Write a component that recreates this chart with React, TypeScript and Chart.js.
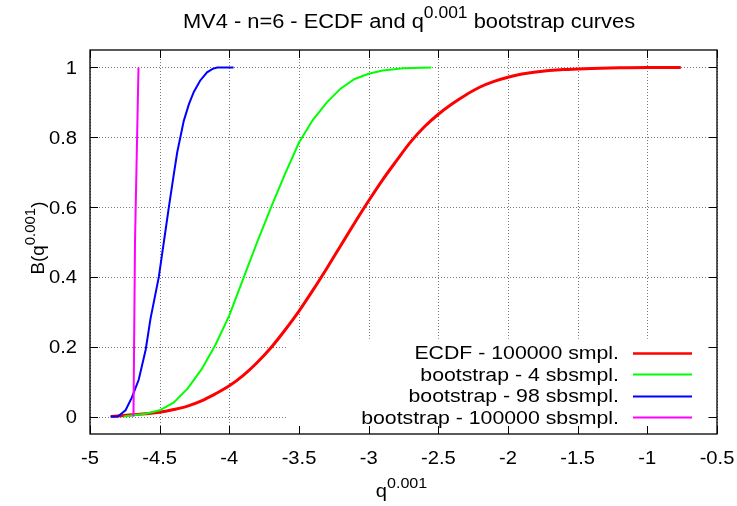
import React, { useEffect, useRef } from "react";
import { Chart, registerables } from "chart.js";

Chart.register(...registerables);

// ---------- data ----------
const X_TICKS = [-5, -4.5, -4, -3.5, -3, -2.5, -2, -1.5, -1, -0.5];
const X_TICK_LABELS = ["-5", "-4.5", "-4", "-3.5", "-3", "-2.5", "-2", "-1.5", "-1", "-0.5"];
const Y_TICKS = [0, 0.2, 0.4, 0.6, 0.8, 1];
const Y_TICK_LABELS = ["0", "0.2", "0.4", "0.6", "0.8", "1"];

const SERIES_NAMES = [
  "ECDF - 100000 smpl.",
  "bootstrap - 4 sbsmpl.",
  "bootstrap - 98 sbsmpl.",
  "bootstrap - 100000 sbsmpl.",
];
const SERIES_COLORS = ["#ff0000", "#00ff00", "#0000ff", "#ff00ff"];

const ecdfQ = [-4.85, -4.7, -4.6, -4.5, -4.4, -4.3, -4.2, -4.1, -4.0, -3.9, -3.8, -3.7, -3.6, -3.5, -3.4, -3.3, -3.2, -3.1, -3.0, -2.9, -2.8, -2.7, -2.6, -2.5, -2.4, -2.3, -2.2, -2.1, -2.0, -1.9, -1.8, -1.6, -1.4, -1.2, -1.0, -0.76];
const ecdfB = [0, 0.005, 0.008, 0.012, 0.02, 0.03, 0.045, 0.065, 0.088, 0.118, 0.155, 0.198, 0.248, 0.302, 0.362, 0.425, 0.49, 0.555, 0.618, 0.678, 0.733, 0.786, 0.83, 0.866, 0.896, 0.922, 0.944, 0.96, 0.972, 0.981, 0.987, 0.994, 0.997, 0.999, 1, 1];

const boot4Q = [-4.76, -4.7, -4.6, -4.5, -4.4, -4.3, -4.2, -4.1, -4.0, -3.9, -3.8, -3.7, -3.6, -3.5, -3.4, -3.3, -3.2, -3.1, -3.0, -2.9, -2.75, -2.55];
const boot4B = [0, 0.003, 0.008, 0.018, 0.04, 0.08, 0.135, 0.205, 0.29, 0.395, 0.5, 0.6, 0.695, 0.785, 0.85, 0.9, 0.94, 0.967, 0.982, 0.991, 0.998, 1];

const boot98Q = [-4.853, -4.8, -4.745, -4.7, -4.65, -4.6, -4.566, -4.506, -4.47, -4.434, -4.4, -4.374, -4.327, -4.29, -4.255, -4.21, -4.16, -4.12, -4.087, -3.97];
const boot98B = [0, 0, 0.018, 0.054, 0.106, 0.192, 0.28, 0.4, 0.5, 0.6, 0.69, 0.757, 0.847, 0.895, 0.93, 0.962, 0.986, 0.996, 1, 1];

const boot100kQ = [-4.688, -4.677, -4.652];
const boot100kB = [0, 0.5, 1];

// ---------- styling ----------
const FONT = '"Liberation Sans", Arial, Helvetica, sans-serif';
const SX = 1.12; // horizontal text stretch
const SUP = 0.8;

type Part = { t: string; sup?: boolean };

function richWidth(ctx: CanvasRenderingContext2D, parts: Part[], size: number) {
  let w = 0;
  for (const p of parts) {
    ctx.font = `${p.sup ? size * SUP : size}px ${FONT}`;
    w += ctx.measureText(p.t).width;
  }
  return w;
}

function drawRich(
  ctx: CanvasRenderingContext2D,
  parts: Part[],
  x: number,
  y: number,
  align: "left" | "center" | "right",
  size: number,
  sx: number
) {
  const w = richWidth(ctx, parts, size) * sx;
  const start = align === "center" ? x - w / 2 : align === "right" ? x - w : x;
  ctx.save();
  ctx.translate(start, y);
  ctx.scale(sx, 1);
  ctx.textAlign = "left";
  ctx.textBaseline = "alphabetic";
  ctx.fillStyle = "#000";
  let off = 0;
  for (const p of parts) {
    const s = p.sup ? size * SUP : size;
    ctx.font = `${s}px ${FONT}`;
    ctx.fillText(p.t, off, p.sup ? -size * 0.52 : 0);
    off += ctx.measureText(p.t).width;
  }
  ctx.restore();
}

const TICK_SIZE = 18;
const LEGEND_SIZE = 19;

function legendBox(area: any) {
  const textRight = area.right - 98;
  const firstRow = area.bottom - 81.3;
  return {
    textRight,
    firstRow,
    rowGap: 21.5,
    left: area.left + 197,
    top: firstRow - 14,
    right: area.right - 11,
    bottom: area.bottom - 6,
    sampleL: area.right - 84,
    sampleR: area.right - 25,
  };
}

const gnuplotFrame = {
  id: "gnuplotFrame",
  beforeDatasetsDraw(chart: any) {
    const { ctx, chartArea: a, scales } = chart;
    const xs = scales.x;
    const ys = scales.y;
    ctx.save();
    ctx.strokeStyle = "#777";
    ctx.lineWidth = 1;
    ctx.setLineDash([1, 2]);
    for (const v of X_TICKS) {
      const px = Math.round(xs.getPixelForValue(v)) + 0.5;
      ctx.beginPath();
      ctx.moveTo(px, a.top);
      ctx.lineTo(px, a.bottom);
      ctx.stroke();
    }
    for (const v of Y_TICKS) {
      const py = Math.round(ys.getPixelForValue(v)) + 0.5;
      ctx.beginPath();
      ctx.moveTo(a.left, py);
      ctx.lineTo(a.right, py);
      ctx.stroke();
    }
    ctx.setLineDash([]);
    // legend background (opaque key box)
    const lb = legendBox(a);
    ctx.fillStyle = "#fff";
    ctx.fillRect(lb.left, lb.top, lb.right - lb.left, lb.bottom - lb.top);
    ctx.restore();
  },
  afterDatasetsDraw(chart: any) {
    const { ctx, chartArea: a, scales } = chart;
    const xs = scales.x;
    const ys = scales.y;
    ctx.save();
    // border
    ctx.strokeStyle = "#000";
    ctx.lineWidth = 1.3;
    ctx.strokeRect(a.left, a.top, a.right - a.left, a.bottom - a.top);
    // tick marks (inward, mirrored)
    ctx.lineWidth = 1;
    const tl = 8;
    for (const v of X_TICKS) {
      const px = Math.round(xs.getPixelForValue(v)) + 0.5;
      ctx.beginPath();
      ctx.moveTo(px, a.bottom);
      ctx.lineTo(px, a.bottom - tl);
      ctx.moveTo(px, a.top);
      ctx.lineTo(px, a.top + tl);
      ctx.stroke();
    }
    for (const v of Y_TICKS) {
      const py = Math.round(ys.getPixelForValue(v)) + 0.5;
      ctx.beginPath();
      ctx.moveTo(a.left, py);
      ctx.lineTo(a.left + tl, py);
      ctx.moveTo(a.right, py);
      ctx.lineTo(a.right - tl, py);
      ctx.stroke();
    }
    // tick labels
    X_TICKS.forEach((v, i) => {
      drawRich(ctx, [{ t: X_TICK_LABELS[i] }], xs.getPixelForValue(v), a.bottom + 29.5, "center", TICK_SIZE, SX);
    });
    Y_TICKS.forEach((v, i) => {
      drawRich(ctx, [{ t: Y_TICK_LABELS[i] }], a.left - 13, ys.getPixelForValue(v) + 6.5, "right", TICK_SIZE, SX);
    });
    // title
    drawRich(
      ctx,
      [{ t: "MV4 - n=6 - ECDF and q" }, { t: "0.001", sup: true }, { t: " bootstrap curves" }],
      409,
      28,
      "center",
      19.5,
      SX
    );
    // x axis title
    drawRich(ctx, [{ t: "q" }, { t: "0.001", sup: true }], (a.left + a.right) / 2 - 2, a.bottom + 63, "center", TICK_SIZE, SX);
    // y axis title (rotated)
    ctx.save();
    ctx.translate(44, (a.top + a.bottom) / 2 - 4);
    ctx.rotate(-Math.PI / 2);
    drawRich(ctx, [{ t: "B(q" }, { t: "0.001", sup: true }, { t: ")" }], 0, 0, "center", TICK_SIZE, 1.04);
    ctx.restore();
    // legend text and samples
    const lb = legendBox(a);
    SERIES_NAMES.forEach((n, i) => {
      const cy = lb.firstRow + i * lb.rowGap;
      drawRich(ctx, [{ t: n }], lb.textRight, cy + 6.5, "right", LEGEND_SIZE, SX);
      ctx.strokeStyle = SERIES_COLORS[i];
      ctx.lineWidth = i === 0 ? 2.5 : 2;
      ctx.beginPath();
      ctx.moveTo(lb.sampleL, Math.round(cy) + 0.5);
      ctx.lineTo(lb.sampleR, Math.round(cy) + 0.5);
      ctx.stroke();
    });
    ctx.restore();
  },
};

function pts(q: number[], b: number[]) {
  return q.map((v, i) => ({ x: v, y: b[i] }));
}

export default function App() {
  const ref = useRef<HTMLCanvasElement | null>(null);
  useEffect(() => {
    if (!ref.current) return;
    const chart = new Chart(ref.current, {
      type: "line",
      data: {
        datasets: [
          { label: SERIES_NAMES[0], data: pts(ecdfQ, ecdfB), borderColor: SERIES_COLORS[0], borderWidth: 3, pointRadius: 0, cubicInterpolationMode: "monotone", order: 4 },
          { label: SERIES_NAMES[1], data: pts(boot4Q, boot4B), borderColor: SERIES_COLORS[1], borderWidth: 2, pointRadius: 0, tension: 0, order: 3 },
          { label: SERIES_NAMES[2], data: pts(boot98Q, boot98B), borderColor: SERIES_COLORS[2], borderWidth: 2, pointRadius: 0, tension: 0, order: 2 },
          { label: SERIES_NAMES[3], data: pts(boot100kQ, boot100kB), borderColor: SERIES_COLORS[3], borderWidth: 2, pointRadius: 0, tension: 0, order: 1 },
        ],
      } as any,
      options: {
        responsive: false,
        animation: false,
        layout: { padding: { left: 90, top: 50, right: 20, bottom: 72 } },
        scales: {
          x: { type: "linear", min: -5, max: -0.5, display: false },
          y: { type: "linear", min: -0.05, max: 1.05, display: false },
        },
        plugins: {
          legend: { display: false },
          title: { display: false },
          tooltip: { enabled: false },
        },
        events: [],
      } as any,
      plugins: [gnuplotFrame],
    });
    return () => chart.destroy();
  }, []);
  return (
    <div style={{ position: "fixed", left: 0, top: 0, width: 737, height: 506, background: "#fff" }}>
      <canvas ref={ref} width={737} height={506} style={{ display: "block", width: 737, height: 506 }} />
    </div>
  );
}
